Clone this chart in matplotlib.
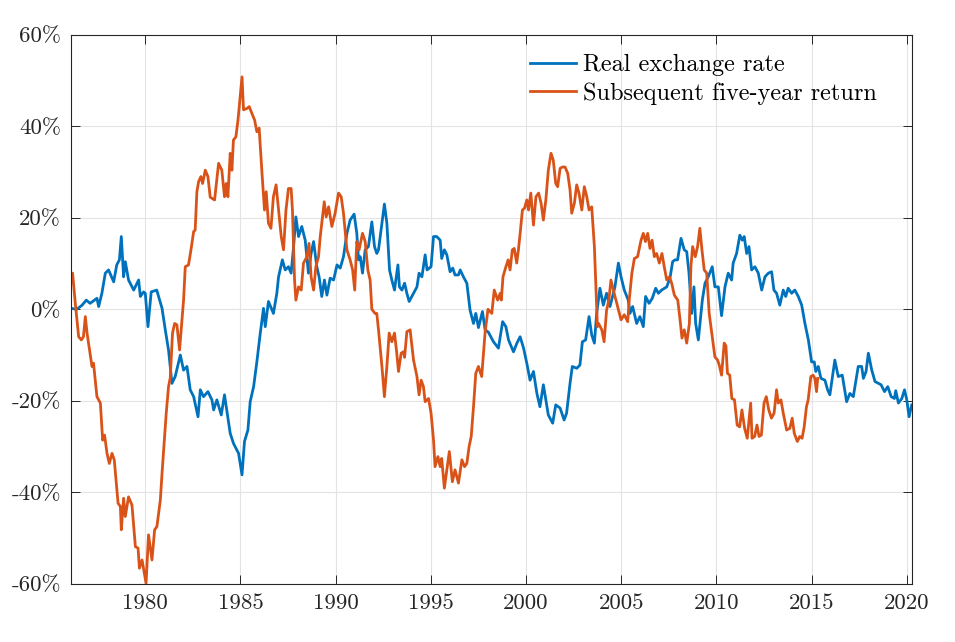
import matplotlib
matplotlib.use("Agg")
import matplotlib.pyplot as plt
import numpy as np

plt.rcParams['font.family'] = 'serif'
plt.rcParams['font.serif'] = ['cmr10', 'DejaVu Serif']
plt.rcParams['mathtext.fontset'] = 'cm'
plt.rcParams['axes.unicode_minus'] = False

# Real exchange rate (deviation from mean, %)
rate_years = [1976.1, 1976.4, 1976.68, 1976.9, 1977.1, 1977.46, 1977.55, 1977.72, 1977.9, 1978.07,
              1978.34, 1978.5, 1978.64, 1978.74, 1978.86, 1978.95, 1979.12, 1979.39, 1979.65, 1979.74,
              1979.91, 1980.0, 1980.14, 1980.31, 1980.6, 1980.88, 1981.05, 1981.22, 1981.4, 1981.57,
              1981.84, 1982.01, 1982.19, 1982.36, 1982.54, 1982.77, 1982.89, 1983.06, 1983.29, 1983.5,
              1983.59, 1983.76, 1983.99, 1984.16, 1984.46, 1984.63, 1984.9, 1985.08, 1985.21, 1985.39,
              1985.51, 1985.69, 1985.86, 1986.04, 1986.21, 1986.3, 1986.47, 1986.73, 1986.91, 1987.0,
              1987.2, 1987.35, 1987.52, 1987.66, 1987.79, 1987.91, 1988.05, 1988.22, 1988.4, 1988.57,
              1988.71, 1988.84, 1989.01, 1989.13, 1989.27, 1989.41, 1989.54, 1989.71, 1989.89, 1990.07,
              1990.24, 1990.41, 1990.59, 1990.76, 1990.97, 1991.11, 1991.2, 1991.29, 1991.41, 1991.55,
              1991.72, 1991.9, 1992.04, 1992.16, 1992.25, 1992.43, 1992.56, 1992.69, 1992.83, 1992.95,
              1993.09, 1993.27, 1993.35, 1993.48, 1993.62, 1993.74, 1993.86, 1994.09, 1994.27, 1994.38,
              1994.53, 1994.7, 1994.8, 1995.01, 1995.14, 1995.31, 1995.49, 1995.57, 1995.71, 1995.84,
              1996.01, 1996.15, 1996.27, 1996.45, 1996.54, 1996.71, 1996.89, 1997.06, 1997.24, 1997.36,
              1997.5, 1997.71, 1997.85, 1998.02, 1998.29, 1998.55, 1998.77, 1998.94, 1999.08, 1999.34,
              1999.52, 1999.69, 1999.87, 2000.04, 2000.21, 2000.39, 2000.57, 2000.73, 2000.91, 2001.17,
              2001.4, 2001.56, 2001.79, 2002.0, 2002.13, 2002.31, 2002.43, 2002.66, 2002.83, 2002.96,
              2003.13, 2003.31, 2003.45, 2003.59, 2003.71, 2003.88, 2004.06, 2004.23, 2004.41, 2004.67,
              2004.85, 2004.99, 2005.16, 2005.37, 2005.46, 2005.6, 2005.81, 2005.98, 2006.16, 2006.28,
              2006.46, 2006.63, 2006.81, 2006.95, 2007.12, 2007.39, 2007.56, 2007.7, 2007.82, 2007.96,
              2008.14, 2008.31, 2008.44, 2008.56, 2008.7, 2008.82, 2008.91, 2009.05, 2009.26, 2009.4,
              2009.57, 2009.78, 2009.92, 2010.1, 2010.27, 2010.45, 2010.62, 2010.8, 2010.88, 2011.06,
              2011.23, 2011.36, 2011.46, 2011.59, 2011.71, 2011.85, 2012.02, 2012.2, 2012.38, 2012.55,
              2012.73, 2012.9, 2013.02, 2013.16, 2013.33, 2013.51, 2013.64, 2013.77, 2013.95, 2014.12,
              2014.3, 2014.48, 2014.65, 2014.83, 2015.0, 2015.14, 2015.22, 2015.35, 2015.49, 2015.7,
              2015.84, 2015.96, 2016.22, 2016.4, 2016.61, 2016.84, 2017.01, 2017.19, 2017.45, 2017.63,
              2017.72, 2017.86, 2017.98, 2018.16, 2018.33, 2018.51, 2018.65, 2018.83, 2019.0, 2019.18,
              2019.35, 2019.42, 2019.56, 2019.74, 2019.88, 2020.0, 2020.12, 2020.26]
rate_values = [0.2, 0.0, 0.9, 2.0, 1.3, 2.4, 0.6, 3.5, 7.9, 8.6,
               6.0, 9.7, 10.8, 15.9, 7.1, 10.4, 6.4, 4.2, 6.4, 2.8,
               3.8, 3.5, -3.8, 3.8, 4.2, 0.2, -4.5, -8.9, -16.2, -14.7,
               -10.0, -13.3, -12.5, -17.6, -19.1, -23.5, -17.6, -19.1, -18.0, -19.8,
               -22.0, -19.8, -23.1, -18.7, -27.1, -29.3, -31.5, -36.2, -28.9, -26.4,
               -20.2, -16.9, -11.5, -5.2, 0.2, -3.8, 1.7, -0.9, 3.5, 7.1,
               10.8, 8.6, 9.3, 7.9, 13.7, 20.2, 15.9, 18.1, 15.1, 7.9,
               12.2, 14.8, 9.3, 7.1, 2.8, 6.4, 3.1, 6.8, 6.4, 9.7,
               9.0, 11.5, 16.6, 19.5, 20.8, 16.6, 10.8, 11.5, 7.9, 13.0,
               13.7, 19.1, 13.7, 12.2, 13.0, 18.8, 23.0, 18.8, 8.6, 6.4,
               4.2, 9.7, 4.9, 4.2, 5.7, 3.5, 1.7, 3.5, 4.9, 7.9,
               7.1, 11.9, 8.6, 9.3, 15.9, 15.9, 15.1, 11.1, 13.0, 11.9,
               8.2, 9.0, 7.5, 7.5, 8.6, 7.1, 5.7, -0.2, -3.1, -0.9,
               -4.0, -0.5, -4.5, -5.0, -7.1, -8.5, -2.7, -3.8, -6.7, -9.3,
               -7.4, -6.0, -8.5, -11.8, -15.5, -13.6, -18.4, -21.3, -16.5, -23.1,
               -24.9, -20.9, -21.6, -24.2, -22.7, -16.2, -12.5, -12.9, -12.2, -7.1,
               -6.7, -1.6, -5.6, -7.4, -0.9, 4.6, 0.9, 3.5, 0.6, 4.9,
               10.1, 7.1, 4.2, 2.0, -0.9, 0.6, -3.1, -1.6, -3.8, 2.8,
               1.3, 2.4, 4.6, 3.5, 4.2, 4.9, 6.8, 10.4, 10.8, 10.8,
               15.5, 13.0, 12.6, 7.9, -0.9, 4.9, -3.1, -6.7, 2.0, 5.7,
               7.1, 9.3, 4.9, 4.9, -1.4, 4.9, 7.9, 6.4, 10.1, 12.2,
               16.2, 15.1, 15.9, 12.2, 13.7, 8.6, 9.3, 7.9, 4.2, 7.1,
               7.9, 8.2, 4.2, 3.5, 0.9, 4.2, 2.8, 4.6, 3.5, 4.2,
               2.8, 0.9, -3.1, -6.7, -11.5, -11.5, -13.6, -12.5, -15.1, -15.5,
               -17.6, -18.7, -11.1, -14.7, -14.4, -20.2, -18.4, -19.1, -12.5, -12.5,
               -15.1, -13.6, -9.6, -13.3, -15.8, -16.2, -16.5, -18.0, -16.9, -19.1,
               -19.5, -17.8, -20.5, -19.5, -17.6, -19.8, -23.5, -20.9]

# Subsequent five-year return (%)
ret_years = [1976.07, 1976.18, 1976.33, 1976.5, 1976.64, 1976.75, 1976.85, 1976.94, 1977.02, 1977.2,
             1977.28, 1977.46, 1977.64, 1977.76, 1977.86, 1977.99, 1978.11, 1978.25, 1978.37, 1978.57,
             1978.69, 1978.74, 1978.86, 1978.95, 1979.12, 1979.3, 1979.48, 1979.62, 1979.69, 1979.83,
             1980.04, 1980.17, 1980.35, 1980.49, 1980.61, 1980.79, 1980.88, 1981.05, 1981.1, 1981.22,
             1981.31, 1981.43, 1981.54, 1981.66, 1981.8, 1981.93, 1982.01, 1982.1, 1982.27, 1982.41,
             1982.54, 1982.62, 1982.71, 1982.8, 1982.92, 1983.01, 1983.15, 1983.29, 1983.41, 1983.64,
             1983.85, 1984.02, 1984.16, 1984.25, 1984.34, 1984.46, 1984.55, 1984.63, 1984.76, 1984.87,
             1984.95, 1985.08, 1985.16, 1985.34, 1985.46, 1985.6, 1985.74, 1985.86, 1985.98, 1986.12,
             1986.26, 1986.35, 1986.47, 1986.6, 1986.73, 1986.87, 1987.0, 1987.14, 1987.26, 1987.39,
             1987.52, 1987.66, 1987.73, 1987.84, 1987.91, 1988.05, 1988.19, 1988.31, 1988.49, 1988.6,
             1988.71, 1988.84, 1988.96, 1989.1, 1989.19, 1989.31, 1989.4, 1989.5, 1989.63, 1989.8,
             1989.97, 1990.15, 1990.29, 1990.41, 1990.59, 1990.76, 1990.89, 1991.0, 1991.11, 1991.23,
             1991.41, 1991.55, 1991.69, 1991.81, 1991.9, 1992.07, 1992.16, 1992.25, 1992.43, 1992.56,
             1992.69, 1992.81, 1992.95, 1993.09, 1993.21, 1993.3, 1993.44, 1993.56, 1993.62, 1993.74,
             1993.91, 1994.09, 1994.27, 1994.38, 1994.49, 1994.61, 1994.7, 1994.88, 1995.01, 1995.14,
             1995.22, 1995.37, 1995.49, 1995.57, 1995.71, 1995.84, 1995.97, 1996.13, 1996.27, 1996.45,
             1996.63, 1996.77, 1996.89, 1997.01, 1997.12, 1997.24, 1997.36, 1997.5, 1997.67, 1997.85,
             1998.0, 1998.2, 1998.33, 1998.51, 1998.64, 1998.7, 1998.79, 1998.92, 1999.06, 1999.16,
             1999.28, 1999.38, 1999.51, 1999.6, 1999.69, 1999.81, 1999.92, 2000.04, 2000.13, 2000.25,
             2000.39, 2000.52, 2000.66, 2000.79, 2000.91, 2001.04, 2001.17, 2001.31, 2001.43, 2001.56,
             2001.66, 2001.79, 2001.91, 2002.05, 2002.19, 2002.31, 2002.4, 2002.54, 2002.66, 2002.78,
             2002.93, 2003.06, 2003.19, 2003.31, 2003.45, 2003.59, 2003.68, 2003.75, 2003.81, 2003.98,
             2004.1, 2004.23, 2004.35, 2004.46, 2004.63, 2004.81, 2004.99, 2005.16, 2005.34, 2005.42,
             2005.56, 2005.69, 2005.86, 2006.04, 2006.16, 2006.27, 2006.39, 2006.51, 2006.62, 2006.74,
             2006.86, 2007.0, 2007.14, 2007.26, 2007.39, 2007.53, 2007.65, 2007.79, 2007.97, 2008.09,
             2008.19, 2008.31, 2008.44, 2008.58, 2008.66, 2008.75, 2008.89, 2009.01, 2009.13, 2009.24,
             2009.36, 2009.49, 2009.62, 2009.8, 2009.92, 2010.06, 2010.15, 2010.27, 2010.41, 2010.5,
             2010.58, 2010.7, 2010.81, 2010.95, 2011.09, 2011.22, 2011.34, 2011.48, 2011.62, 2011.8,
             2011.87, 2012.01, 2012.13, 2012.24, 2012.36, 2012.5, 2012.62, 2012.75, 2012.89, 2013.03,
             2013.16, 2013.25, 2013.39, 2013.51, 2013.69, 2013.86, 2013.98, 2014.09, 2014.25, 2014.38,
             2014.5, 2014.61, 2014.73, 2014.82, 2014.96, 2015.08, 2015.17, 2015.26, 2015.32]
ret_values = [7.5, 7.9, 1.0, -6.0, -6.7, -6.0, -1.6, -5.2, -7.4, -12.5,
              -11.8, -19.1, -20.5, -28.6, -27.5, -31.5, -33.7, -31.5, -32.9, -42.4,
              -43.1, -48.2, -41.3, -45.3, -41.0, -42.8, -51.9, -52.2, -56.6, -54.8,
              -59.9, -49.3, -54.8, -48.2, -47.5, -41.7, -35.8, -25.7, -22.7, -16.9,
              -15.0, -5.2, -3.1, -3.4, -8.9, -2.3, 2.0, 9.3, 9.7, 13.3,
              17.0, 17.3, 25.7, 27.9, 29.0, 27.5, 30.4, 29.0, 24.5, 23.9,
              31.9, 30.4, 24.6, 27.5, 24.6, 34.1, 30.4, 37.0, 37.7, 41.4,
              45.0, 50.8, 43.6, 43.9, 44.3, 42.8, 41.4, 38.8, 39.6, 30.4,
              21.7, 25.7, 18.8, 17.7, 24.6, 27.2, 21.7, 15.9, 13.0, 21.7,
              26.4, 26.4, 21.7, 6.4, 2.0, 4.9, 4.2, 10.1, 11.5, 14.4,
              7.1, 4.2, 9.3, 11.5, 15.9, 20.2, 23.5, 20.2, 22.4, 18.1,
              21.0, 25.4, 24.6, 21.0, 13.0, 10.8, 8.6, 4.2, 14.8, 13.0,
              16.6, 14.8, 8.6, 6.4, 0.0, -0.9, -0.9, -4.5, -12.5, -19.1,
              -12.5, -5.2, -7.1, -5.2, -9.6, -13.6, -9.6, -9.3, -10.5, -4.9,
              -4.5, -11.1, -14.7, -18.7, -15.5, -16.9, -20.2, -19.5, -22.7, -28.6,
              -34.4, -32.2, -34.4, -32.6, -39.1, -35.1, -31.1, -37.7, -35.1, -38.0,
              -32.9, -34.4, -33.7, -30.0, -27.8, -21.3, -14.0, -12.5, -14.7, -5.0,
              0.0, -0.9, 4.2, 2.0, 3.5, 2.0, 7.1, 9.0, 10.8, 8.6,
              13.0, 13.3, 10.1, 13.0, 16.6, 21.7, 22.1, 23.9, 21.7, 25.4,
              18.4, 24.6, 25.4, 23.2, 19.5, 23.9, 30.4, 34.1, 32.6, 27.5,
              26.8, 30.8, 31.1, 31.1, 29.7, 26.1, 21.0, 23.2, 27.2, 25.4,
              21.7, 26.8, 24.6, 21.7, 22.4, 13.7, 3.5, -3.8, -3.1, -4.5,
              -7.1, -0.2, 2.0, 6.4, 3.5, 0.6, -2.3, -1.2, -2.7, 2.0,
              7.9, 11.1, 11.5, 15.1, 16.6, 14.8, 16.6, 13.3, 15.1, 11.5,
              12.2, 10.1, 12.2, 9.3, 6.4, 7.1, 5.7, 3.1, 2.0, -2.3,
              -6.3, -4.5, -7.4, -3.1, 9.3, 13.7, 11.5, 13.7, 17.7, 13.0,
              8.6, 7.9, -0.9, -6.7, -10.4, -11.1, -12.2, -14.4, -7.4, -8.0,
              -14.0, -14.4, -19.5, -19.8, -25.3, -25.7, -22.0, -26.0, -28.2, -20.5,
              -28.2, -27.8, -25.3, -27.8, -27.5, -20.5, -19.1, -22.0, -23.8, -22.7,
              -17.6, -20.5, -19.8, -22.7, -26.4, -26.0, -23.8, -27.1, -28.9, -27.8,
              -28.2, -25.7, -21.3, -19.8, -14.7, -14.4, -15.1, -18.0, -15.1]

x_ticks = [1980, 1985, 1990, 1995, 2000, 2005, 2010, 2015, 2020]
y_ticks = [-60, -40, -20, 0, 20, 40, 60]
y_labels = ['-60%', '-40%', '-20%', '0%', '20%', '40%', '60%']

fig = plt.figure(figsize=(9.55, 6.42), dpi=100)
ax = fig.add_axes([0.074, 0.0907, 0.8807, 0.8551])

ax.plot(rate_years, rate_values, color='#0072BD', lw=2.0, label='Real exchange rate')
ax.plot(ret_years, ret_values, color='#D95319', lw=2.0, label='Subsequent five-year return')

ax.set_xlim(1976.08, 2020.26)
ax.set_ylim(-60, 60)
ax.set_xticks(x_ticks)
ax.set_xticklabels([str(t) for t in x_ticks])
ax.set_yticks(y_ticks)
ax.set_yticklabels(y_labels)
ax.grid(True, color='#e3e3e3', lw=0.8)
ax.set_axisbelow(True)
ax.tick_params(direction='in', length=6.5, width=0.7, colors='#262626',
               top=True, right=True, labelsize=16.5, pad=7)
for s in ax.spines.values():
    s.set_color('#262626')
    s.set_linewidth(0.8)

ax.legend(loc='upper left', bbox_to_anchor=(0.546, 0.965), frameon=False,
          fontsize=17.5, handlelength=1.9, handletextpad=0.3, labelspacing=0.25,
          borderaxespad=0, borderpad=0)

fig.savefig('out.png', dpi=100)
